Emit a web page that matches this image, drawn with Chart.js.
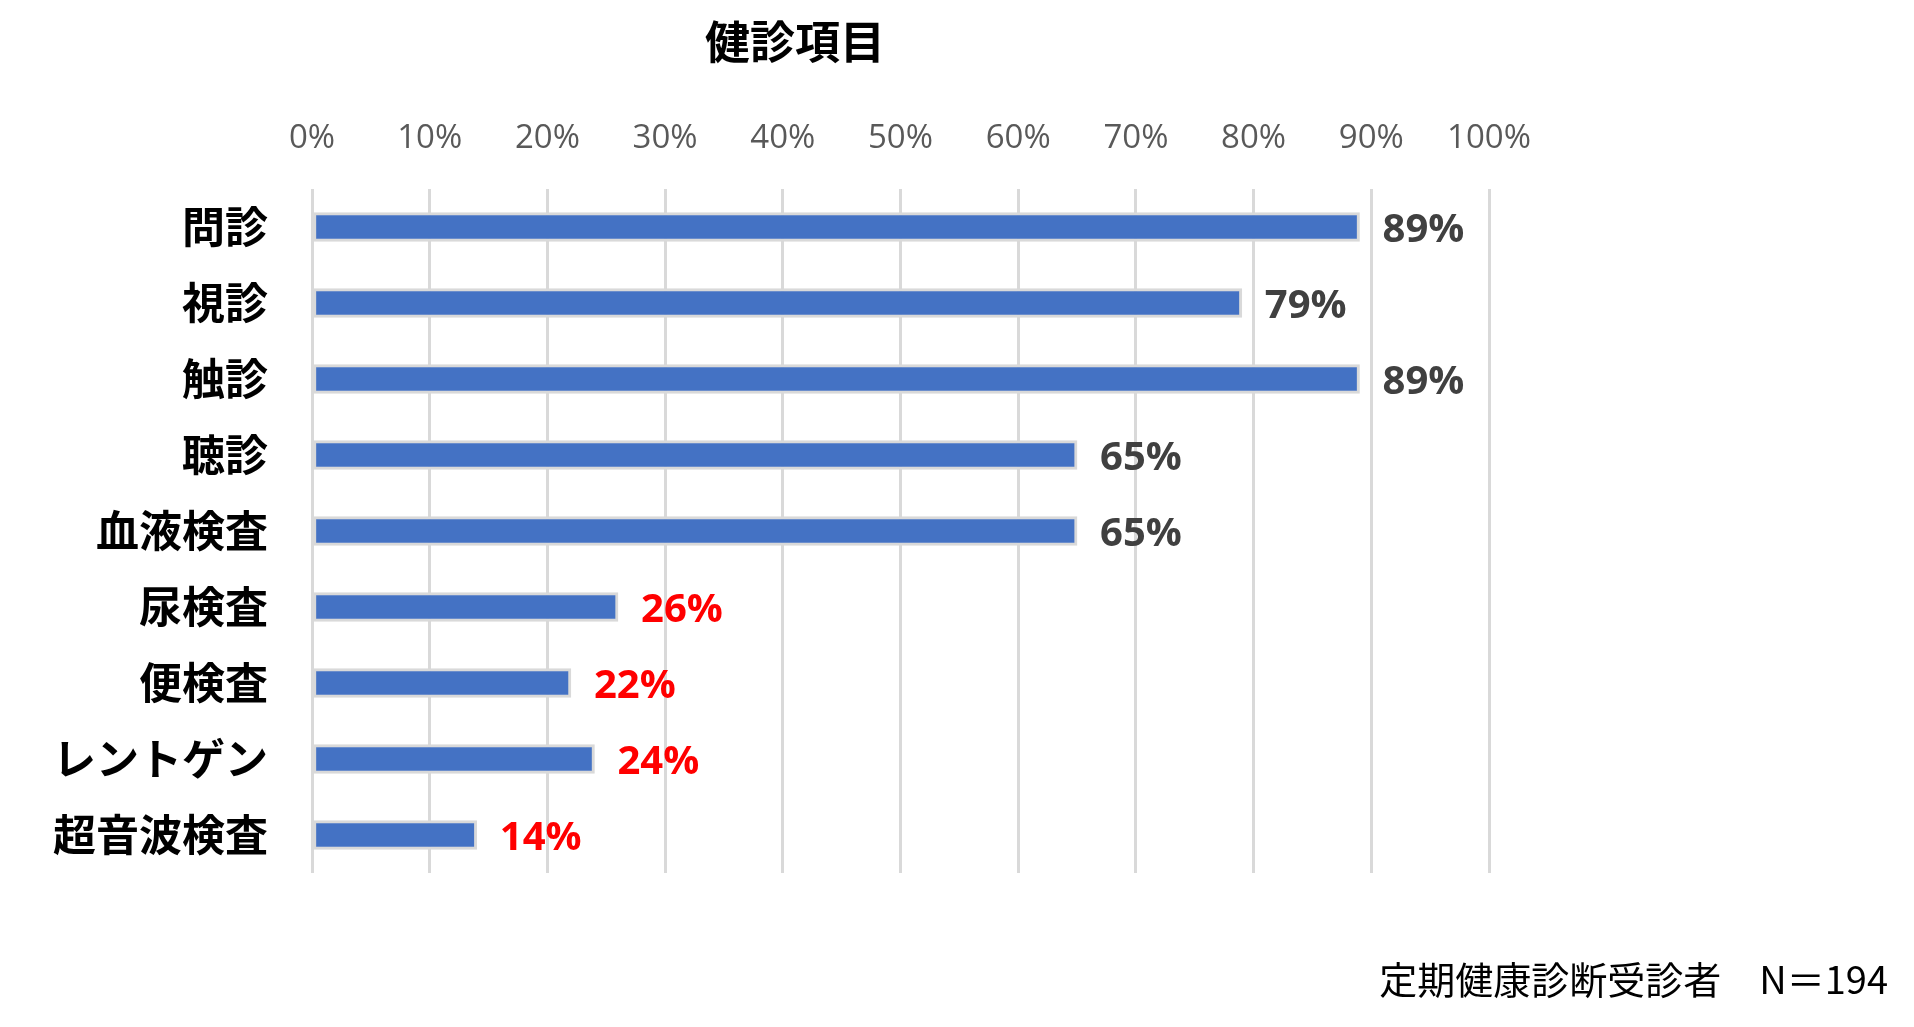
<!DOCTYPE html>
<html lang="ja">
<head>
<meta charset="utf-8">
<title>健診項目</title>
<script src="https://cdn.jsdelivr.net/npm/chart.js@4/dist/chart.umd.min.js"></script>
<style>
  html, body { margin: 0; padding: 0; background: #fff; }
  #wrap { width: 1914px; height: 1027px; }
</style>
</head>
<body>
<div id="wrap"><canvas id="chart" width="1914" height="1027"></canvas></div>
<script>
const chartTitle = '健診項目';
const footNote = '定期健康診断受診者　N＝194';
const categories = ['問診', '視診', '触診', '聴診', '血液検査', '尿検査', '便検査', 'レントゲン', '超音波検査'];
const rates = [89, 79, 89, 65, 65, 26, 22, 24, 14];
const highlighted = ['尿検査', '便検査', 'レントゲン', '超音波検査'];
const axisMin = 0;
const axisMax = 100;
const axisStep = 10;

// value labels at the bar ends, plus title and footnote
const textPlugin = {
  id: 'texts',
  afterDatasetsDraw(chart) {
    const ctx = chart.ctx;
    const meta = chart.getDatasetMeta(0);
    ctx.save();
    ctx.font = 'bold 40px "Open Sans"';
    ctx.textAlign = 'left';
    ctx.textBaseline = 'middle';
    meta.data.forEach((bar, i) => {
      ctx.fillStyle = highlighted.includes(categories[i]) ? '#ff0000' : '#404040';
      ctx.fillText(rates[i] + '%', bar.x + 23, bar.y + 4);
    });
    ctx.restore();
  },
  afterDraw(chart) {
    const ctx = chart.ctx;
    ctx.save();
    ctx.fillStyle = '#000';
    ctx.textBaseline = 'middle';
    ctx.font = 'bold 45px "Noto Sans CJK JP"';
    ctx.textAlign = 'center';
    ctx.fillText(chartTitle, 795, 42);
    ctx.font = '38px "Noto Sans CJK JP"';
    ctx.textAlign = 'right';
    ctx.fillText(footNote, 1888, 980);
    ctx.restore();
  }
};

new Chart(document.getElementById('chart'), {
  type: 'bar',
  data: {
    labels: categories,
    datasets: [{
      data: rates,
      backgroundColor: '#4472c4',
      borderColor: '#d9d9d9',
      borderWidth: 3,
      borderSkipped: false,
      barThickness: 29
    }]
  },
  options: {
    indexAxis: 'y',
    responsive: false,
    animation: false,
    devicePixelRatio: 1,
    layout: { padding: { left: 0, right: 425, top: 0, bottom: 154 } },
    plugins: {
      legend: { display: false },
      title: { display: false },
      tooltip: { enabled: false }
    },
    scales: {
      x: {
        position: 'top',
        min: axisMin,
        max: axisMax,
        afterFit(s) { s.height = 189; },
        ticks: {
          stepSize: axisStep,
          padding: 31,
          color: '#595959',
          font: { family: '"Open Sans"', size: 33 },
          callback: v => v + '%'
        },
        grid: { color: '#d9d9d9', lineWidth: 3, drawTicks: false },
        border: { display: false }
      },
      y: {
        afterFit(s) { s.width = 312; },
        ticks: {
          padding: 44,
          color: '#000',
          font: { family: '"Noto Sans CJK JP"', size: 43, weight: 'bold' }
        },
        grid: { display: false, drawTicks: false },
        border: { display: false }
      }
    }
  },
  plugins: [textPlugin]
});
</script>
</body>
</html>
